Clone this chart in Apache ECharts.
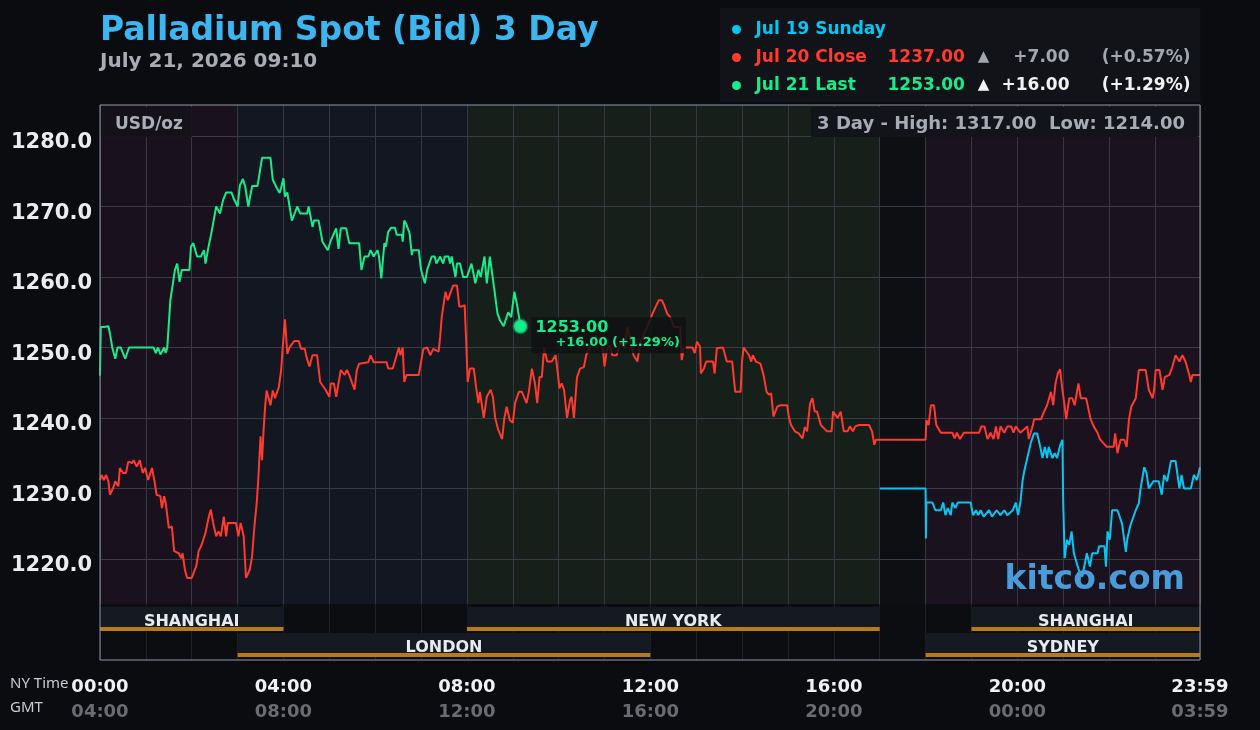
<!DOCTYPE html>
<html>
<head>
<meta charset="utf-8">
<title>Palladium Spot (Bid) 3 Day</title>
<script src="https://cdn.jsdelivr.net/npm/echarts@6.0.0/dist/echarts.min.js"></script>
<style>
  html, body { margin: 0; padding: 0; background: #0b0c10; }
  #chart { width: 1260px; height: 730px; }
</style>
</head>
<body>
<div id="chart"></div>
<script>
// minutes after 00:00 NY time, price
var jul19Sunday = [[1020,1230],[1080,1230],[1080.5,1222.9],[1081,1228],[1089,1228],[1093,1226.9],[1100,1226.9],[1103,1228],[1106,1226.2],[1109,1227.2],[1113,1226.2],[1115,1228],[1119,1227.2],[1122,1228],[1139,1228],[1142,1226.2],[1146,1226.9],[1149,1226.2],[1152,1226.9],[1156,1226],[1163,1226.9],[1167,1226],[1173,1226.9],[1178,1226.2],[1183,1226.9],[1187,1226.2],[1194,1226.9],[1198,1228],[1201,1226.2],[1204,1228],[1207,1231.2],[1209,1232.4],[1213,1234.3],[1218,1236.6],[1222,1237.8],[1226,1237.8],[1230,1235.9],[1233,1234.3],[1236,1235.9],[1239,1234.3],[1241,1235.9],[1246,1234.3],[1249,1235],[1252,1234.3],[1256,1236.1],[1259,1236.9],[1260,1228.3],[1262,1220.1],[1265,1222.7],[1268,1222],[1271,1223.9],[1274,1220.8],[1281,1218.2],[1285,1217.5],[1291,1220.8],[1295,1218.9],[1298,1220.8],[1305,1220.8],[1307,1221.8],[1314,1221.8],[1316,1218.9],[1318,1223.9],[1321,1222.7],[1324,1226.9],[1331,1226.9],[1337,1225],[1342,1221],[1344,1222.9],[1348,1224.8],[1355,1226.9],[1359,1227.9],[1361,1229.8],[1366,1233],[1369,1232.2],[1372,1230],[1378,1231],[1385,1231],[1389,1229.1],[1392,1231.9],[1396,1231],[1401,1233.9],[1407,1233.9],[1412,1230],[1415,1231.9],[1418,1230],[1427,1230],[1431,1231.9],[1435,1231.2],[1439,1233]];

var jul20Close = [[0,1231.2],[2,1231.9],[5,1231.2],[8,1231.9],[11,1231],[13,1229.1],[17,1230],[20,1231],[24,1230.3],[26,1232.9],[30,1232.2],[34,1232.2],[37,1233.8],[42,1233.6],[44,1234],[48,1233.1],[52,1234],[56,1232.2],[59,1232.9],[63,1231.2],[68,1232.9],[71,1231.2],[74,1229.1],[79,1228.9],[81,1227.2],[84,1228.9],[86,1227.9],[90,1224.4],[94,1224.6],[97,1221.1],[103,1220.8],[106,1220.1],[108,1220.8],[111,1218.5],[114,1217.3],[120,1217.3],[126,1219],[129,1221.1],[133,1222],[138,1223.7],[142,1225.8],[145,1227],[148,1225.1],[152,1223.2],[155,1223.9],[158,1223.2],[162,1226],[165,1223.2],[167,1225.1],[178,1225.1],[181,1223.2],[184,1225.1],[188,1223.2],[191,1217.3],[196,1218.5],[199,1220.4],[202,1224.6],[205,1227.9],[207,1231.2],[210,1237.4],[212,1234],[214,1238.3],[216,1241.6],[218,1243.9],[223,1241.8],[226,1243.9],[229,1242.8],[234,1244.4],[237,1246.8],[239,1250],[242,1254],[245,1249.1],[248,1250],[254,1250.9],[260,1250.9],[263,1249.8],[268,1249.8],[270,1248.7],[274,1247.3],[278,1248.9],[284,1248.9],[288,1245.1],[295,1244],[300,1243],[302,1244.9],[306,1244.9],[309,1243],[312,1244.9],[315,1246.8],[320,1246.1],[323,1246.8],[326,1246.1],[333,1244],[336,1246.8],[339,1247.7],[351,1247.9],[354,1248.9],[358,1247.9],[375,1247.9],[377,1247],[383,1247],[388,1248.9],[391,1250],[393,1248.9],[396,1250],[398,1245.1],[401,1246.1],[417,1246.1],[423,1249.8],[428,1250],[432,1248.9],[436,1249.8],[443,1249.4],[445,1251.5],[447,1254.3],[452,1257.9],[455,1256.7],[458,1257.6],[462,1258.8],[467,1258.8],[470,1255.8],[473,1255.8],[477,1256],[479,1251],[481,1245.1],[484,1247],[489,1247],[492,1244.4],[495,1242.1],[497,1243.7],[502,1240],[506,1243],[511,1244],[514,1243],[517,1240],[521,1238.3],[526,1237],[529,1240],[532,1241.6],[536,1239.7],[540,1239.3],[543,1242.1],[548,1243.7],[552,1243.7],[558,1242.1],[561,1243.7],[565,1247],[569,1244.9],[572,1242.1],[575,1245.8],[578,1245.8],[581,1249.9],[585,1248],[591,1248],[596,1248.9],[599,1246.3],[601,1244.2],[604,1244.9],[607,1244],[611,1240],[615,1242.6],[617,1243],[620,1240],[622,1240],[624,1245.8],[628,1247],[633,1247.2],[636,1248.9],[641,1250],[645,1250.9],[649,1251.7],[654,1250.9],[658,1249.6],[660,1247.3],[663,1249.6],[667,1250.3],[670,1248.9],[676,1248.9],[681,1250.9],[686,1249.9],[690,1252.9],[694,1250.9],[698,1248.9],[703,1248],[707,1250.8],[712,1252],[717,1253.2],[722,1254.6],[727,1255.8],[731,1256.7],[735,1256.7],[738,1256],[742,1254.8],[746,1254.3],[751,1252.9],[759,1252.9],[761,1248.2],[764,1250],[775,1250],[778,1249.2],[781,1250.8],[785,1250.1],[786,1246.3],[790,1247],[793,1248],[798,1248],[802,1248],[804,1246.3],[807,1249.9],[815,1250],[820,1248],[827,1248],[831,1243.7],[838,1243.7],[840,1248.2],[842,1250],[849,1248.9],[852,1248],[854,1248.9],[858,1248],[864,1247.7],[868,1246.1],[872,1243.7],[875,1243.3],[878,1243.5],[881,1240.2],[886,1241.6],[890,1241.8],[899,1241.8],[901,1240.2],[904,1239],[909,1238.1],[914,1237.8],[919,1237.1],[922,1238.7],[925,1238.1],[929,1242.1],[932,1242.8],[935,1240.9],[938,1240.9],[943,1239],[951,1238.1],[957,1238.1],[959,1240.9],[965,1240],[969,1240.9],[973,1238.1],[978,1238.1],[981,1238.8],[985,1238.1],[988,1238.8],[993,1239],[999,1239],[1006,1239],[1010,1238.1],[1013,1236.2],[1015,1236.9],[1080,1236.9],[1081,1239.7],[1084,1239],[1087,1241.8],[1091,1241.8],[1094,1239],[1100,1237.9],[1115,1237.9],[1118,1237.1],[1121,1237.9],[1125,1237],[1130,1237.9],[1150,1237.9],[1153,1238.8],[1157,1238.8],[1161,1237],[1165,1237.9],[1169,1237],[1172,1238.8],[1175,1237],[1178,1238.8],[1183,1237.9],[1187,1238.8],[1192,1238.8],[1195,1237.9],[1198,1238.8],[1204,1237.9],[1213,1238.8],[1215,1237],[1220,1238.8],[1222,1239.8],[1231,1239.8],[1235,1240.9],[1239,1241.8],[1244,1243.7],[1247,1241.8],[1250,1244.9],[1253,1246.3],[1256,1246.9],[1259,1244],[1262,1241.6],[1264,1239.8],[1268,1242.8],[1272,1242.8],[1275,1241.8],[1280,1244.9],[1283,1242.8],[1290,1242.8],[1296,1239.8],[1300,1238.8],[1305,1237.9],[1308,1237],[1317,1235.9],[1326,1235.9],[1328,1237.8],[1331,1235],[1335,1236.9],[1340,1236.9],[1343,1235.9],[1346,1239.7],[1349,1241.6],[1355,1242.8],[1359,1246.8],[1368,1246.8],[1372,1244],[1377,1242.8],[1379,1244],[1381,1246.8],[1386,1246.8],[1390,1244],[1393,1245.8],[1399,1246.1],[1403,1247.3],[1407,1248.9],[1412,1248],[1416,1248.9],[1420,1248],[1425,1246.1],[1427,1245.1],[1429,1246.1],[1439,1246.1]];

var jul21Last = [[0,1246],[1,1252.9],[5,1252.9],[11,1253],[13,1252],[16,1250],[20,1248.4],[23,1250],[27,1250],[33,1248.4],[38,1250],[70,1250],[73,1249.2],[76,1250],[79,1249],[84,1250],[86,1249.2],[88,1250],[92,1256.7],[95,1258.8],[98,1261],[101,1261.9],[104,1259.3],[107,1261],[117,1261],[119,1264.3],[122,1264.8],[127,1262.9],[132,1262.9],[136,1263.8],[138,1261.9],[142,1264.3],[146,1266.4],[152,1270],[157,1269],[161,1270.9],[165,1272],[172,1272],[175,1271.1],[180,1270],[183,1273],[187,1273.9],[190,1272.8],[194,1270],[199,1272.9],[206,1272.9],[212,1276.9],[223,1276.9],[226,1273.8],[231,1272.7],[235,1271.9],[237,1272.7],[240,1274],[242,1271.4],[245,1272],[248,1270],[251,1268],[254,1268.8],[258,1270],[262,1269],[271,1269],[273,1270],[278,1267.1],[280,1268],[286,1268],[291,1265],[298,1263.8],[302,1265.2],[309,1266.9],[312,1264],[315,1266.9],[322,1266.9],[326,1264.8],[339,1264.8],[342,1261],[346,1262.9],[351,1262.9],[354,1263.8],[358,1262.9],[363,1263.8],[365,1262.9],[368,1259.8],[372,1264.8],[374,1264.3],[377,1266.4],[381,1267],[386,1267],[388,1266],[395,1266],[396,1265],[398,1268],[401,1267.4],[405,1266.2],[408,1263.1],[409,1263.8],[417,1263.8],[420,1261],[425,1259.1],[428,1261],[434,1262.9],[438,1262.9],[440,1261.9],[445,1262.9],[449,1261.9],[451,1262.9],[456,1262.9],[458,1261.9],[460,1262.9],[465,1260],[467,1261.9],[471,1261.9],[475,1260],[480,1260],[486,1261.9],[491,1259.1],[495,1261],[498,1260],[503,1262.9],[506,1259.1],[510,1262.9],[512,1262.9],[516,1258.1],[520,1254.8],[523,1253.9],[528,1253],[531,1254],[534,1255],[538,1254.3],[542,1257.9],[546,1255.8],[550,1253]];

var legendNames = ['Jul 19 Sunday', 'Jul 20 Close', 'Jul 21 Last'];
var legendPrices = [null, 1237.00, 1253.00];
var legendChanges = [null, 7.00, 16.00];
var legendPcts = [null, 0.57, 1.29];

var yTicks = [1220, 1230, 1240, 1250, 1260, 1270, 1280];
var xTicks = [0, 240, 480, 720, 960, 1200, 1439];
var nyTickLabels = ['00:00', '04:00', '08:00', '12:00', '16:00', '20:00', '23:59'];
var gmtTickLabels = ['04:00', '08:00', '12:00', '16:00', '20:00', '00:00', '03:59'];

// background zones of the price area (minutes)
var zoneStarts = [0, 180, 480, 1020, 1080];
var zoneEnds = [180, 480, 1020, 1080, 1439];
var zoneColors = ['#1a111e', '#121722', '#161f19', '#0e0f13', '#1a121f'];

// trading sessions: start, end, row
var sessionNames = ['SHANGHAI', 'NEW YORK', 'SHANGHAI', 'LONDON', 'SYDNEY'];
var sessionStarts = [0, 480, 1140, 180, 1080];
var sessionEnds = [240, 1020, 1439, 720, 1439];
var sessionRows = [0, 0, 0, 1, 1];

var rangeStats = [1317.00, 1214.00]; // 3 day high, low

var colors = ['#06c6f2', '#ff3a2f', '#17ec8b'];
var keys = ['b', 'r', 'g'];
var FONT = 'DejaVu Sans';

var chart = echarts.init(document.getElementById('chart'));

var last = jul21Last[jul21Last.length - 1];

chart.setOption({
    animation: false,
    backgroundColor: '#0b0c10',
    textStyle: { fontFamily: FONT },
    title: [{
        text: 'Palladium Spot (Bid) 3 Day',
        left: 100, top: 15, padding: 0,
        textStyle: { color: '#3cb6f1', fontSize: 33, fontWeight: 'bold', fontFamily: FONT }
    }, {
        text: 'July 21, 2026 09:10',
        left: 100, top: 52, padding: 0,
        textStyle: { color: '#a9acb4', fontSize: 20, fontWeight: 'bold', fontFamily: FONT }
    }, {
        text: 'USD/oz',
        left: 101, top: 107, padding: [9, 9, 4, 14],
        backgroundColor: 'rgba(20,18,24,0.92)',
        textStyle: { color: '#a9aeb9', fontSize: 17, fontWeight: 'bold', fontFamily: FONT }
    }, {
        text: '3 Day - High: ' + rangeStats[0].toFixed(2) + '  Low: ' + rangeStats[1].toFixed(2),
        right: 62, top: 107, padding: [8, 13, 4, 6],
        backgroundColor: '#131419',
        textStyle: { color: '#a6abb6', fontSize: 18, fontWeight: 'bold', fontFamily: FONT }
    }, {
        text: 'kitco.com',
        right: 75, top: 564, padding: 0,
        textStyle: { color: '#4a9bd9', fontSize: 33, fontWeight: 'bold', fontFamily: FONT }
    }, {
        text: 'NY Time',
        left: 10, top: 676, padding: 0,
        textStyle: { color: '#c9ccd2', fontSize: 15, fontWeight: 'normal', fontFamily: 'Noto Sans' }
    }, {
        text: 'GMT',
        left: 10, top: 700, padding: 0,
        textStyle: { color: '#c9ccd2', fontSize: 15, fontWeight: 'normal', fontFamily: 'Noto Sans' }
    }],
    legend: {
        left: 720, top: 8,
        orient: 'vertical',
        padding: [13, 10, 8, 12],
        backgroundColor: '#111318',
        itemWidth: 28, itemHeight: 9, itemGap: 11,
        icon: 'circle',
        selectedMode: false,
        data: legendNames,
        formatter: function (name) {
            var i = legendNames.indexOf(name);
            var k = keys[i];
            var s = '{n' + k + '|' + name + '}';
            if (legendPrices[i] != null) {
                s += '{p' + k + '|' + legendPrices[i].toFixed(2) + '}' +
                    '{a' + k + '|▲}' +
                    '{c' + k + '|+' + legendChanges[i].toFixed(2) + '}' +
                    '{q' + k + '|(+' + legendPcts[i].toFixed(2) + '%)}';
            }
            return s;
        },
        textStyle: {
            fontFamily: FONT, fontSize: 17, fontWeight: 'bold',
            rich: {
                nb: { width: 132, color: colors[0], fontSize: 17, fontWeight: 'bold', lineHeight: 20 },
                nr: { width: 132, color: colors[1], fontSize: 17, fontWeight: 'bold', lineHeight: 20 },
                ng: { width: 132, color: colors[2], fontSize: 17, fontWeight: 'bold', lineHeight: 20 },
                pr: { width: 86, color: colors[1], fontSize: 17, fontWeight: 'bold', lineHeight: 20 },
                pg: { width: 86, color: colors[2], fontSize: 17, fontWeight: 'bold', lineHeight: 20 },
                ar: { width: 20, align: 'center', color: '#a2a6af', fontSize: 15, lineHeight: 20 },
                ag: { width: 20, align: 'center', color: '#f2f2f2', fontSize: 15, lineHeight: 20 },
                cr: { width: 76, align: 'right', color: '#a2a6af', fontSize: 17, fontWeight: 'bold', lineHeight: 20 },
                cg: { width: 76, align: 'right', color: '#f2f2f2', fontSize: 17, fontWeight: 'bold', lineHeight: 20 },
                qr: { width: 121, align: 'right', color: '#a2a6af', fontSize: 17, fontWeight: 'bold', lineHeight: 20 },
                qg: { width: 121, align: 'right', color: '#f2f2f2', fontSize: 17, fontWeight: 'bold', lineHeight: 20 }
            }
        }
    },
    grid: [
        { left: 100, top: 105, width: 1100, height: 499, show: false },
        { left: 100, top: 604, width: 1100, height: 56, show: true, backgroundColor: '#0c0d10', borderWidth: 0 },
        { left: 100, top: 105, width: 1100, height: 555, show: true, backgroundColor: 'transparent', borderColor: '#8f97a8', borderWidth: 1, z: 10 }
    ],
    xAxis: [{
        gridIndex: 0, type: 'value', min: 0, max: 1439, interval: 60,
        axisLine: { show: false }, axisTick: { show: false }, axisLabel: { show: false },
        splitLine: { show: true, lineStyle: { color: '#353843', width: 1 } }
    }, {
        gridIndex: 1, type: 'value', min: 0, max: 1439, interval: 60,
        axisLine: { show: false }, axisTick: { show: false },
        splitLine: { show: true, lineStyle: { color: '#1f2127', width: 1 } },
        axisLabel: {
            customValues: xTicks,
            margin: 15,
            formatter: function (v) {
                var i = xTicks.indexOf(v);
                return '{t|' + nyTickLabels[i] + '}\n{g|' + gmtTickLabels[i] + '}';
            },
            rich: {
                t: { color: '#f0f1f3', fontSize: 18, fontWeight: 'bold', fontFamily: FONT, lineHeight: 25 },
                g: { color: '#6a6c71', fontSize: 18, fontWeight: 'bold', fontFamily: FONT, lineHeight: 25 }
            }
        }
    }, {
        gridIndex: 2, type: 'value', min: 0, max: 1, show: false
    }],
    yAxis: [{
        gridIndex: 0, type: 'value', min: 1213.6, max: 1284.4,
        axisLine: { show: false }, axisTick: { show: false, customValues: yTicks },
        splitLine: { show: true, customValues: yTicks, lineStyle: { color: '#3a3d48', width: 1 } },
        axisLabel: {
            customValues: yTicks,
            margin: 8,
            verticalAlign: 'top',
            lineHeight: 14,
            color: '#ececee', fontSize: 21, fontWeight: 'bold', fontFamily: FONT,
            formatter: function (v) { return v.toFixed(1); }
        }
    }, {
        gridIndex: 1, type: 'value', min: 0, max: 2, show: false
    }, {
        gridIndex: 2, type: 'value', min: 0, max: 1, show: false
    }],
    series: [{
        name: 'zones',
        type: 'custom',
        xAxisIndex: 0, yAxisIndex: 0,
        z: -1, silent: true,
        encode: { x: [0, 1], y: 2 },
        data: zoneStarts.map(function (s, i) { return [s, zoneEnds[i], 1250]; }),
        renderItem: function (params, api) {
            var cs = params.coordSys;
            var x0 = api.coord([api.value(0), 1250])[0];
            var x1 = api.coord([api.value(1), 1250])[0];
            return {
                type: 'rect',
                shape: { x: x0, y: cs.y, width: x1 - x0, height: cs.height },
                style: { fill: zoneColors[params.dataIndex] }
            };
        }
    }, {
        name: 'sessions',
        type: 'custom',
        xAxisIndex: 1, yAxisIndex: 1,
        silent: true,
        encode: { x: [0, 1], y: 2 },
        data: sessionStarts.map(function (s, i) { return [s, sessionEnds[i], sessionRows[i]]; }),
        renderItem: function (params, api) {
            var cs = params.coordSys;
            var x0 = api.coord([api.value(0), 0])[0];
            var x1 = api.coord([api.value(1), 0])[0];
            var top = cs.y + 3 + api.value(2) * 26;
            return {
                type: 'group',
                children: [{
                    type: 'rect',
                    shape: { x: x0, y: top, width: x1 - x0, height: 24 },
                    style: { fill: '#151922' }
                }, {
                    type: 'text',
                    style: {
                        text: sessionNames[params.dataIndex],
                        x: (x0 + x1) / 2, y: top + 15,
                        align: 'center', verticalAlign: 'middle',
                        fill: '#e8eaf0', fontSize: 16, fontWeight: 'bold', fontFamily: FONT
                    }
                }, {
                    type: 'rect',
                    shape: { x: x0, y: top + 20, width: x1 - x0, height: 4 },
                    style: { fill: '#b97a17' }
                }]
            };
        }
    }, {
        name: legendNames[0],
        type: 'line',
        xAxisIndex: 0, yAxisIndex: 0,
        data: jul19Sunday,
        color: colors[0],
        showSymbol: false, symbol: 'none',
        lineStyle: { color: colors[0], width: 2 }
    }, {
        name: legendNames[1],
        type: 'line',
        xAxisIndex: 0, yAxisIndex: 0,
        data: jul20Close,
        color: colors[1],
        showSymbol: false, symbol: 'none',
        lineStyle: { color: colors[1], width: 2 }
    }, {
        name: legendNames[2],
        type: 'line',
        xAxisIndex: 0, yAxisIndex: 0,
        data: jul21Last,
        color: colors[2],
        showSymbol: false, symbol: 'none',
        lineStyle: { color: colors[2], width: 2 },
        markPoint: {
            symbol: 'circle',
            symbolSize: 13,
            silent: true,
            itemStyle: { color: colors[2], borderColor: 'rgba(23,200,120,0.45)', borderWidth: 3 },
            label: {
                show: true,
                position: 'right',
                distance: 3,
                offset: [0, 9],
                backgroundColor: 'rgba(15,16,19,0.85)',
                padding: [3, 6, 3, 4],
                formatter: function () {
                    return '{a|' + last[1].toFixed(2) + '}\n{b|+' + legendChanges[2].toFixed(2) +
                        ' (+' + legendPcts[2].toFixed(2) + '%)}';
                },
                rich: {
                    a: { color: colors[2], fontSize: 16, fontWeight: 'bold', fontFamily: FONT, lineHeight: 15 },
                    b: { color: colors[2], fontSize: 13, fontWeight: 'bold', fontFamily: FONT, lineHeight: 15, padding: [0, 0, 0, 20] }
                }
            },
            data: [{ coord: [last[0], last[1]] }]
        }
    }]
});
</script>
</body>
</html>
